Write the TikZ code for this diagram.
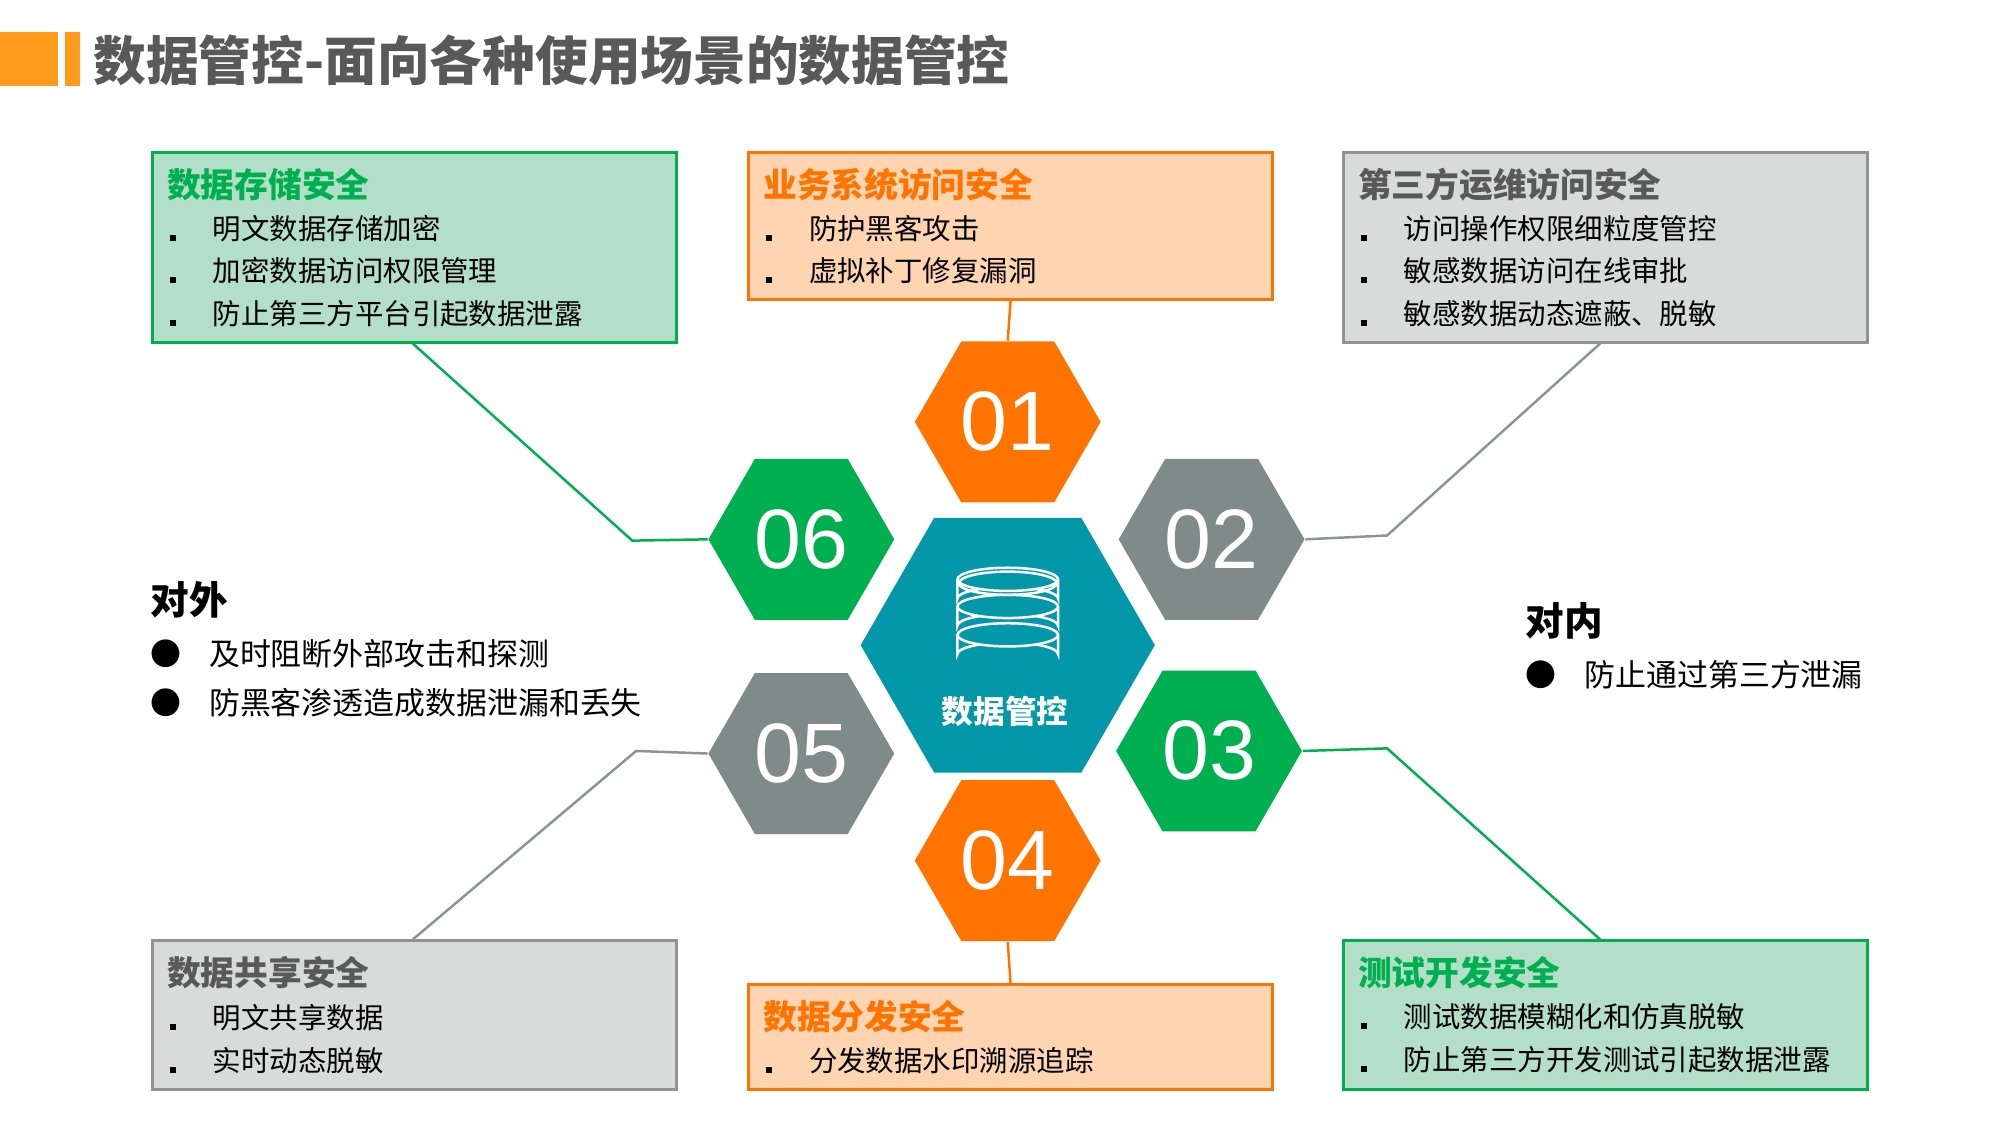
\documentclass[tikz,border=0pt]{standalone}
\usepackage{fontspec}
\setmainfont{Noto Sans CJK SC}
\newfontfamily\numfont{Liberation Sans}
\usetikzlibrary{shapes.geometric,positioning}
\definecolor{cOrange}{HTML}{FF7300}
\definecolor{cGreen}{HTML}{00B050}
\definecolor{cGray}{HTML}{7F8B89}
\definecolor{cTeal}{HTML}{0397AA}
\definecolor{cTitle}{HTML}{595959}
\definecolor{cBar}{HTML}{FF9A1A}
\definecolor{fGreen}{HTML}{B3DEC8}
\definecolor{fOrange}{HTML}{FFD4B0}
\definecolor{fGray}{HTML}{D9DBDB}
\definecolor{bGray}{HTML}{8E9494}
\newcommand{\ux}{0.012903cm}
\newcommand{\sqbullet}{\tikz[baseline=-0.1ex]\draw[line width=0.6mm] (0,0) rectangle (0.12,0.12);}
\tikzstyle{tsHex} = [
    regular polygon,
    regular polygon sides=6,
    minimum size={144*\ux},
    inner sep=0pt,
    text=white,
    font=\numfont\fontsize{24}{24}\selectfont
]
\tikzstyle{tsBox} = [
    rectangle,
    anchor=north west,
    line width=0.3mm,
    minimum width={406*\ux},
    inner sep=0pt
]
\tikzstyle{tsBoxTitle} = [
    anchor=west,
    inner sep=0pt,
    font=\bfseries\fontsize{9.6}{10}\selectfont
]
\tikzstyle{tsItem} = [
    anchor=west,
    inner sep=0pt,
    text=black,
    font=\fontsize{8.1}{9}\selectfont
]
\tikzstyle{tsLink} = [
    line width=0.25mm
]
\begin{document}
\begin{tikzpicture}[x=\ux, y=-\ux]
    \useasboundingbox (0,0) rectangle (1550,872);

    % Title
    \fill[cBar] (0,25) rectangle (45,67);
    \fill[cBar] (50,25) rectangle (62,67);
    \node[anchor=west, inner sep=0pt, text=cTitle, font=\bfseries\fontsize{15}{16}\selectfont] (title) at (72,47) {数据管控-面向各种使用场景的数据管控};

    % Boxes
    \node[tsBox, draw=cGreen, fill=fGreen, minimum height={147*\ux}] (b1) at (117,117) {};
    \node[tsBox, draw=cOrange, fill=fOrange, minimum height={114*\ux}] (b2) at (579,117) {};
    \node[tsBox, draw=bGray, fill=fGray, minimum height={147*\ux}] (b3) at (1040,117) {};
    \node[tsBox, draw=bGray, fill=fGray, minimum height={115*\ux}] (b4) at (117,728) {};
    \node[tsBox, draw=cOrange, fill=fOrange, minimum height={81*\ux}] (b5) at (579,762) {};
    \node[tsBox, draw=cGreen, fill=fGreen, minimum height={115*\ux}] (b6) at (1040,728) {};

    % Box texts
    \node[tsBoxTitle, text=cGreen] (t1) at (129,143) {数据存储安全};
    \node[tsItem] at (131,177) {\sqbullet\hspace{1.3em}明文数据存储加密};
    \node[tsItem] at (131,210) {\sqbullet\hspace{1.3em}加密数据访问权限管理};
    \node[tsItem] at (131,243) {\sqbullet\hspace{1.3em}防止第三方平台引起数据泄露};

    \node[tsBoxTitle, text=cOrange] (t2) at (591,143) {业务系统访问安全};
    \node[tsItem] at (593,177) {\sqbullet\hspace{1.3em}防护黑客攻击};
    \node[tsItem] at (593,210) {\sqbullet\hspace{1.3em}虚拟补丁修复漏洞};

    \node[tsBoxTitle, text=cTitle] (t3) at (1052,143) {第三方运维访问安全};
    \node[tsItem] at (1054,177) {\sqbullet\hspace{1.3em}访问操作权限细粒度管控};
    \node[tsItem] at (1054,210) {\sqbullet\hspace{1.3em}敏感数据访问在线审批};
    \node[tsItem] at (1054,243) {\sqbullet\hspace{1.3em}敏感数据动态遮蔽、脱敏};

    \node[tsBoxTitle, text=cTitle] (t4) at (129,754) {数据共享安全};
    \node[tsItem] at (131,789) {\sqbullet\hspace{1.3em}明文共享数据};
    \node[tsItem] at (131,822) {\sqbullet\hspace{1.3em}实时动态脱敏};

    \node[tsBoxTitle, text=cOrange] (t5) at (591,788) {数据分发安全};
    \node[tsItem] at (593,822) {\sqbullet\hspace{1.3em}分发数据水印溯源追踪};

    \node[tsBoxTitle, text=cGreen] (t6) at (1052,754) {测试开发安全};
    \node[tsItem] at (1054,788) {\sqbullet\hspace{1.3em}测试数据模糊化和仿真脱敏};
    \node[tsItem] at (1054,821) {\sqbullet\hspace{1.3em}防止第三方开发测试引起数据泄露};

    % Hexagons
    \node[tsHex, fill=cTeal, minimum size={228*\ux}] (hc) at (781,500) {};
    \node[tsHex, fill=cOrange] (h1) at (781,327) {01};
    \node[tsHex, fill=cGray] (h2) at (939,418) {02};
    \node[tsHex, fill=cGreen] (h3) at (937,582) {03};
    \node[tsHex, fill=cOrange] (h4) at (781,667) {04};
    \node[tsHex, fill=cGray] (h5) at (621,584) {05};
    \node[tsHex, fill=cGreen] (h6) at (621,418) {06};

    % Database icon
    \begin{scope}[white, line width=0.25mm]
        \foreach \y in {502,480,459} {
            \draw[fill=cTeal] (742,\y-10) -- (742,\y+5) arc[start angle=180, end angle=360, x radius=39, y radius=9] -- (820,\y-10);
            \draw[fill=cTeal] (781,\y-10) ellipse[x radius=39, y radius=9];
        }
        \draw (781,452) ellipse[x radius=38, y radius=9];
    \end{scope}
    \node[text=white, font=\bfseries\fontsize{9}{10}\selectfont] (hct) at (779,551) {数据管控};

    % Connectors
    \coordinate (k1) at (490,419);
    \coordinate (k3) at (1075,415);
    \coordinate (k4) at (493,582);
    \coordinate (k6) at (1075,580);
    \draw[tsLink, cGreen] ([xshift={203*\ux}]b1.south west) -- (k1) -- (h6.west);
    \draw[tsLink, cOrange] (b2.south) -- (h1.north);
    \draw[tsLink, bGray] ([xshift={200*\ux}]b3.south west) -- (k3) -- (h2.east);
    \draw[tsLink, bGray] ([xshift={203*\ux}]b4.north west) -- (k4) -- (h5.west);
    \draw[tsLink, cOrange] (b5.north) -- (h4.south);
    \draw[tsLink, cGreen] ([xshift={200*\ux}]b6.north west) -- (k6) -- (h3.east);

    % Outer / inner
    \node[anchor=west, inner sep=0pt, font=\bfseries\fontsize{11}{12}\selectfont] (out) at (116,465) {对外};
    \node[anchor=west, inner sep=0pt, font=\fontsize{8.8}{10}\selectfont] (out1) at (116,507) {●\hspace{0.9em}及时阻断外部攻击和探测};
    \node[anchor=west, inner sep=0pt, font=\fontsize{8.8}{10}\selectfont] (out2) at (116,545) {●\hspace{0.9em}防黑客渗透造成数据泄漏和丢失};
    \node[anchor=west, inner sep=0pt, font=\bfseries\fontsize{11}{12}\selectfont] (in) at (1182,481) {对内};
    \node[anchor=west, inner sep=0pt, font=\fontsize{8.8}{10}\selectfont] (in1) at (1182,523) {●\hspace{0.9em}防止通过第三方泄漏};
\end{tikzpicture}
\end{document}
